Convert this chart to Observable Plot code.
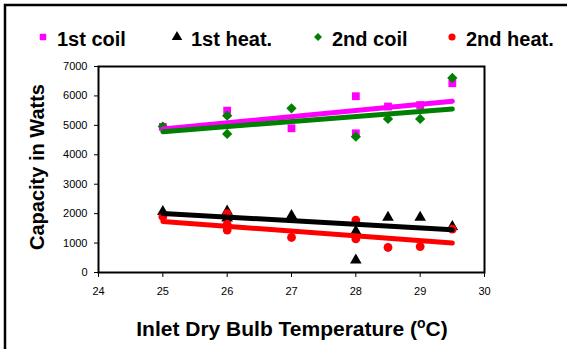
<!DOCTYPE html>
<html>
<head>
<meta charset="utf-8">
<script src="https://cdn.jsdelivr.net/npm/d3@7"></script>
<script src="https://cdn.jsdelivr.net/npm/@observablehq/plot@0.6"></script>
<style>
  html, body { margin: 0; padding: 0; background: #fff; }
  #chart { width: 567px; height: 349px; overflow: hidden; }
  svg { font-family: "Liberation Sans", Arial, sans-serif; }
</style>
</head>
<body>
<div id="chart"></div>
<script>
// ---- Data ----
const seriesNames = ["1st coil", "1st heat.", "2nd coil", "2nd heat."];
const seriesColors = ["#ff00ff", "#000000", "#008000", "#ff0000"];

const coil1X = [25, 26, 27, 28, 28, 28.5, 29, 29.5];
const coil1Y = [4950, 5500, 4900, 5990, 4730, 5640, 5690, 6430];

const heat1X = [25, 26, 26, 27, 28, 28, 28.5, 29, 29.5];
const heat1Y = [2070, 2080, 1850, 1930, 1400, 420, 1870, 1870, 1560];

const coil2X = [25, 26, 26, 27, 28, 28.5, 29, 29.5];
const coil2Y = [4960, 5330, 4710, 5580, 4615, 5220, 5220, 6610];

const heat2X = [25, 26, 26, 26, 27, 28, 28, 28.5, 29, 29.5];
const heat2Y = [1895, 2000, 1640, 1440, 1190, 1780, 1140, 850, 880, 1475];

// linear trend lines (end points)
const trendX = [25, 29.5];
const coil1Trend = [4877, 5816];
const heat1Trend = [2007, 1452];
const coil2Trend = [4786, 5558];
const heat2Trend = [1735, 1000];

const xTicks = [24, 25, 26, 27, 28, 29, 30];
const yTicks = [0, 1000, 2000, 3000, 4000, 5000, 6000, 7000];

const xLabel = "Inlet Dry Bulb Temperature (";
const yLabel = "Capacity in Watts";

// ---- Build tables ----
const pts = (xs, ys, s) => xs.map((x, i) => ({x, y: ys[i], s}));
const coil1 = pts(coil1X, coil1Y, seriesNames[0]);
const heat1 = pts(heat1X, heat1Y, seriesNames[1]);
const coil2 = pts(coil2X, coil2Y, seriesNames[2]);
const heat2 = pts(heat2X, heat2Y, seriesNames[3]);
const tr = (ys) => trendX.map((x, i) => ({x, y: ys[i]}));

const plot = Plot.plot({
  width: 567,
  height: 349,
  marginLeft: 98,
  marginRight: 83,
  marginTop: 66,
  marginBottom: 77,
  style: {fontFamily: '"Liberation Sans", Arial, sans-serif', fontSize: "11px", background: "#fff", color: "#000"},
  x: {domain: [24, 30], ticks: xTicks, tickSize: 5, tickPadding: 10, label: null, tickFormat: d => String(d)},
  y: {domain: [0, 7000], ticks: yTicks, tickSize: 4, tickPadding: 7, label: null, tickFormat: d => String(d)},
  marks: [
    Plot.dot(coil1, {x: "x", y: "y", symbol: "square", r: 4.4, fill: seriesColors[0], stroke: "none"}),
    Plot.dot(heat1, {x: "x", y: "y", symbol: "triangle", r: 4.3, fill: seriesColors[1], stroke: "none"}),
    Plot.dot(coil2, {x: "x", y: "y", symbol: "square", rotate: 45, r: 4.1, fill: seriesColors[2], stroke: "none"}),
    Plot.dot(heat2, {x: "x", y: "y", symbol: "circle", r: 4.4, fill: seriesColors[3], stroke: "none"}),
    Plot.line(tr(coil1Trend), {x: "x", y: "y", stroke: seriesColors[0], strokeWidth: 5}),
    Plot.line(tr(heat1Trend), {x: "x", y: "y", stroke: seriesColors[1], strokeWidth: 5}),
    Plot.line(tr(coil2Trend), {x: "x", y: "y", stroke: seriesColors[2], strokeWidth: 5}),
    Plot.line(tr(heat2Trend), {x: "x", y: "y", stroke: seriesColors[3], strokeWidth: 5}),
    Plot.frame({stroke: "#000", strokeWidth: 2})
  ]
});

document.getElementById("chart").appendChild(plot);

// ---- Decorations: outer frame, titles, legend ----
const svg = d3.select(plot);
const ff = '"Liberation Sans", Arial, sans-serif';

// outer chart-area border (only top and left visible)
svg.append("path").attr("d", "M5,349 L5,5 L567,5").attr("fill", "none").attr("stroke", "#000").attr("stroke-width", 2.5);

// y title
svg.append("text")
  .attr("transform", "translate(44,167) rotate(-90)")
  .attr("text-anchor", "middle")
  .attr("font-family", ff).attr("font-weight", "bold").attr("font-size", 20)
  .attr("fill", "#000")
  .text(yLabel);

// x title with superscript o
const xt = svg.append("text")
  .attr("x", 292).attr("y", 336)
  .attr("text-anchor", "middle")
  .attr("font-family", ff).attr("font-weight", "bold").attr("font-size", 21)
  .attr("fill", "#000");
xt.append("tspan").text(xLabel);
xt.append("tspan").attr("font-size", 14).attr("dy", -8).text("o");
xt.append("tspan").attr("dy", 8).text("C)");

// legend
const legX = [43, 177, 318, 452];
const legSym = [d3.symbolSquare, d3.symbolTriangle, d3.symbolSquare, d3.symbolCircle];
const legSize = [42, 48, 32, 40];
const legRot = [0, 0, 45, 0];
seriesNames.forEach((name, i) => {
  svg.append("path")
    .attr("d", d3.symbol(legSym[i], legSize[i])())
    .attr("transform", `translate(${legX[i]},37) rotate(${legRot[i]})`)
    .attr("fill", seriesColors[i]);
  svg.append("text")
    .attr("x", legX[i] + 14).attr("y", 46)
    .attr("text-anchor", "start")
    .attr("font-family", ff).attr("font-weight", "bold").attr("font-size", 20)
    .attr("fill", "#000")
    .text(name);
});
</script>
</body>
</html>
